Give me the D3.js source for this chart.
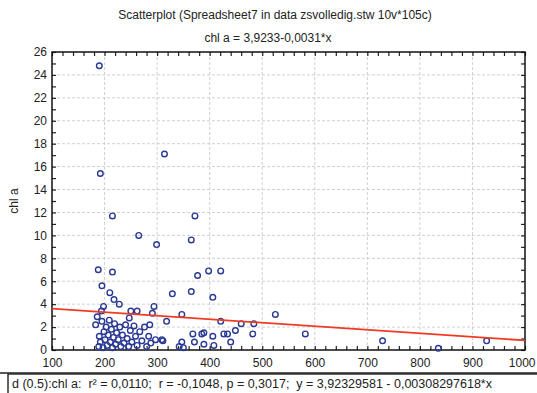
<!DOCTYPE html>
<html>
<head>
<meta charset="utf-8">
<script src="https://cdn.jsdelivr.net/npm/d3@7"></script>
<style>
    body { margin: 0; background: #fff; }
    text { font-family: "Liberation Sans", Arial, sans-serif; fill: #222; }
</style>
</head>
<body>
<div id="visual"></div>
<script>

/* values: x variable and chl a */
var xValues = [
    190, 192, 215, 265, 188, 215, 195, 210, 218, 228, 198, 194, 250, 262, 314, 372,
    299, 365, 377, 398, 421, 329, 365, 406, 294, 291, 347, 318, 421, 460, 484, 525,
    286, 582, 297, 309, 311, 368, 389, 385, 406, 427, 434, 449, 482, 371, 389, 408,
    440, 342, 347, 350,
    729, 835, 927,
    183, 186, 189, 190, 192, 195, 197, 199, 201, 203, 205, 207, 209, 211, 213, 215,
    217, 219, 221, 223, 226, 229, 231, 234, 237, 240, 243, 246, 249, 252, 256, 259,
    262, 267, 271, 276, 280, 284, 288, 247
];

var chlA = [
    24.8, 15.4, 11.7, 10.0, 7.0, 6.8, 5.6, 5.0, 4.4, 4.0, 3.8, 3.4, 3.4, 3.4, 17.1, 11.7,
    9.2, 9.6, 6.5, 6.9, 6.9, 4.9, 5.1, 4.6, 3.8, 3.2, 3.1, 2.5, 2.5, 2.3, 2.3, 3.1,
    2.2, 1.4, 0.9, 0.9, 0.8, 1.4, 1.5, 1.4, 1.2, 1.4, 1.4, 1.7, 1.4, 0.7, 0.5, 0.4,
    0.7, 0.3, 0.7, 0.2,
    0.8, 0.15, 0.8,
    2.2, 2.9, 0.3, 1.2, 0.7, 2.5, 0.2, 1.6, 0.9, 2.0, 0.4, 1.3, 2.6, 0.7, 1.8, 0.2,
    1.1, 2.3, 0.5, 1.5, 0.9, 2.0, 0.3, 1.3, 0.6, 2.2, 1.0, 0.3, 1.7, 0.7, 2.1, 1.2,
    0.4, 1.6, 0.8, 2.0, 0.3, 1.2, 0.6, 2.8
];

var xTicks = [100, 200, 300, 400, 500, 600, 700, 800, 900, 1000];
var yTicks = [0, 2, 4, 6, 8, 10, 12, 14, 16, 18, 20, 22, 24, 26];

/* regression coefficients as printed under the chart */
var intercept = 3.92329581, slope = -0.00308297618;

var titleText = "Scatterplot (Spreadsheet7 in data zsvolledig.stw 10v*105c)";
var subTitleText = "chl a = 3,9233-0,0031*x";
var yTitle = "chl a";
var statsText = "d (0.5):chl a:  r\u00b2 = 0,0110;  r = -0,1048, p = 0,3017;  y = 3,92329581 - 0,00308297618*x";

var w = 537, h = 393;
var margin = {top: 52, right: 12, bottom: 43, left: 52};

var svg = d3.select("#visual").append("svg")
    .attr("width", w)
    .attr("height", h);

var x = d3.scaleLinear().domain([100, 1000]).range([margin.left, w - margin.right]);
var y = d3.scaleLinear().domain([0, 26]).range([h - margin.bottom, margin.top]);

var x0 = x.range()[0], x1 = x.range()[1], y0 = y.range()[0], y1 = y.range()[1];

// grid
svg.append("g").selectAll("line.vgrid")
    .data(xTicks.slice(1, -1))
    .enter().append("line")
    .attr("x1", function (d) { return x(d); })
    .attr("x2", function (d) { return x(d); })
    .attr("y1", y1).attr("y2", y0)
    .attr("stroke", "#c4c4c4").attr("stroke-dasharray", "3,2").attr("stroke-width", 0.8);

svg.append("g").selectAll("line.hgrid")
    .data(yTicks.slice(1, -1))
    .enter().append("line")
    .attr("y1", function (d) { return y(d); })
    .attr("y2", function (d) { return y(d); })
    .attr("x1", x0).attr("x2", x1)
    .attr("stroke", "#c4c4c4").attr("stroke-dasharray", "3,2").attr("stroke-width", 0.8);

// inward ticks on all four sides
var xMinor = d3.range(100, 1001, 20);
var yMinor = d3.range(0, 27, 1);

svg.append("g").attr("transform", "translate(0," + y0 + ")")
    .call(d3.axisTop(x).tickValues(xMinor).tickSize(4).tickFormat(""))
    .call(function (g) { g.select(".domain").remove(); });
svg.append("g").attr("transform", "translate(0," + y1 + ")")
    .call(d3.axisBottom(x).tickValues(xMinor).tickSize(4).tickFormat(""))
    .call(function (g) { g.select(".domain").remove(); });
svg.append("g").attr("transform", "translate(" + x0 + ",0)")
    .call(d3.axisRight(y).tickValues(yMinor).tickSize(4).tickFormat(""))
    .call(function (g) { g.select(".domain").remove(); });
svg.append("g").attr("transform", "translate(" + x1 + ",0)")
    .call(d3.axisLeft(y).tickValues(yMinor).tickSize(4).tickFormat(""))
    .call(function (g) { g.select(".domain").remove(); });

svg.selectAll(".tick line").attr("stroke", "#222").attr("stroke-width", 1.2);

// tick labels
var xAxis = svg.append("g").attr("transform", "translate(0," + y0 + ")")
    .call(d3.axisBottom(x).tickValues(xTicks).tickSize(0).tickPadding(8).tickFormat(d3.format("d")));
xAxis.select(".domain").remove();
xAxis.selectAll("text").style("font-size", "12px").attr("fill", "#222");

// last label would run off the right edge, keep it inside
xAxis.selectAll("text")
    .filter(function (d) { return d === 1000; })
    .attr("text-anchor", "end")
    .attr("dx", 10);

var yAxis = svg.append("g").attr("transform", "translate(" + x0 + ",0)")
    .call(d3.axisLeft(y).tickValues(yTicks).tickSize(0).tickPadding(5).tickFormat(d3.format("d")));
yAxis.select(".domain").remove();
yAxis.selectAll("text").style("font-size", "12px").attr("fill", "#222");

// frame
svg.append("rect")
    .attr("x", x0).attr("y", y1)
    .attr("width", x1 - x0).attr("height", y0 - y1)
    .attr("fill", "none").attr("stroke", "#111").attr("stroke-width", 1.5);

// points
svg.append("g").selectAll("circle")
    .data(xValues.map(function (d, i) { return [d, chlA[i]]; }))
    .enter().append("circle")
    .attr("cx", function (d) { return x(d[0]); })
    .attr("cy", function (d) { return y(d[1]); })
    .attr("r", 2.8)
    .attr("fill", "none")
    .attr("stroke", "#2a3a94")
    .attr("stroke-width", 1.4);

// fitted line
svg.append("line")
    .attr("x1", x(100)).attr("y1", y(intercept + slope * 100))
    .attr("x2", x(1000)).attr("y2", y(intercept + slope * 1000))
    .attr("stroke", "#ee3b22").attr("stroke-width", 1.8);

// titles
svg.append("text")
    .attr("x", 275).attr("y", 19)
    .attr("text-anchor", "middle")
    .style("font-size", "12px")
    .text(titleText);

svg.append("text")
    .attr("x", 268).attr("y", 42)
    .attr("text-anchor", "middle")
    .style("font-size", "12px")
    .text(subTitleText);

svg.append("text")
    .attr("transform", "translate(18," + ((y0 + y1) / 2) + ") rotate(-90)")
    .attr("text-anchor", "middle")
    .style("font-size", "12px")
    .text(yTitle);

// stats box under the chart
svg.append("rect")
    .attr("x", 8).attr("y", 374)
    .attr("width", w).attr("height", 30)
    .attr("fill", "#fff").attr("stroke", "#222").attr("stroke-width", 1.4);

svg.append("line")
    .attr("x1", 0).attr("x2", w)
    .attr("y1", 373).attr("y2", 373)
    .attr("stroke", "#222").attr("stroke-width", 1.5);

svg.append("text")
    .attr("x", 12).attr("y", 388)
    .style("font-size", "12.5px")
    .style("white-space", "pre")
    .text(statsText);

</script>
</body>
</html>
